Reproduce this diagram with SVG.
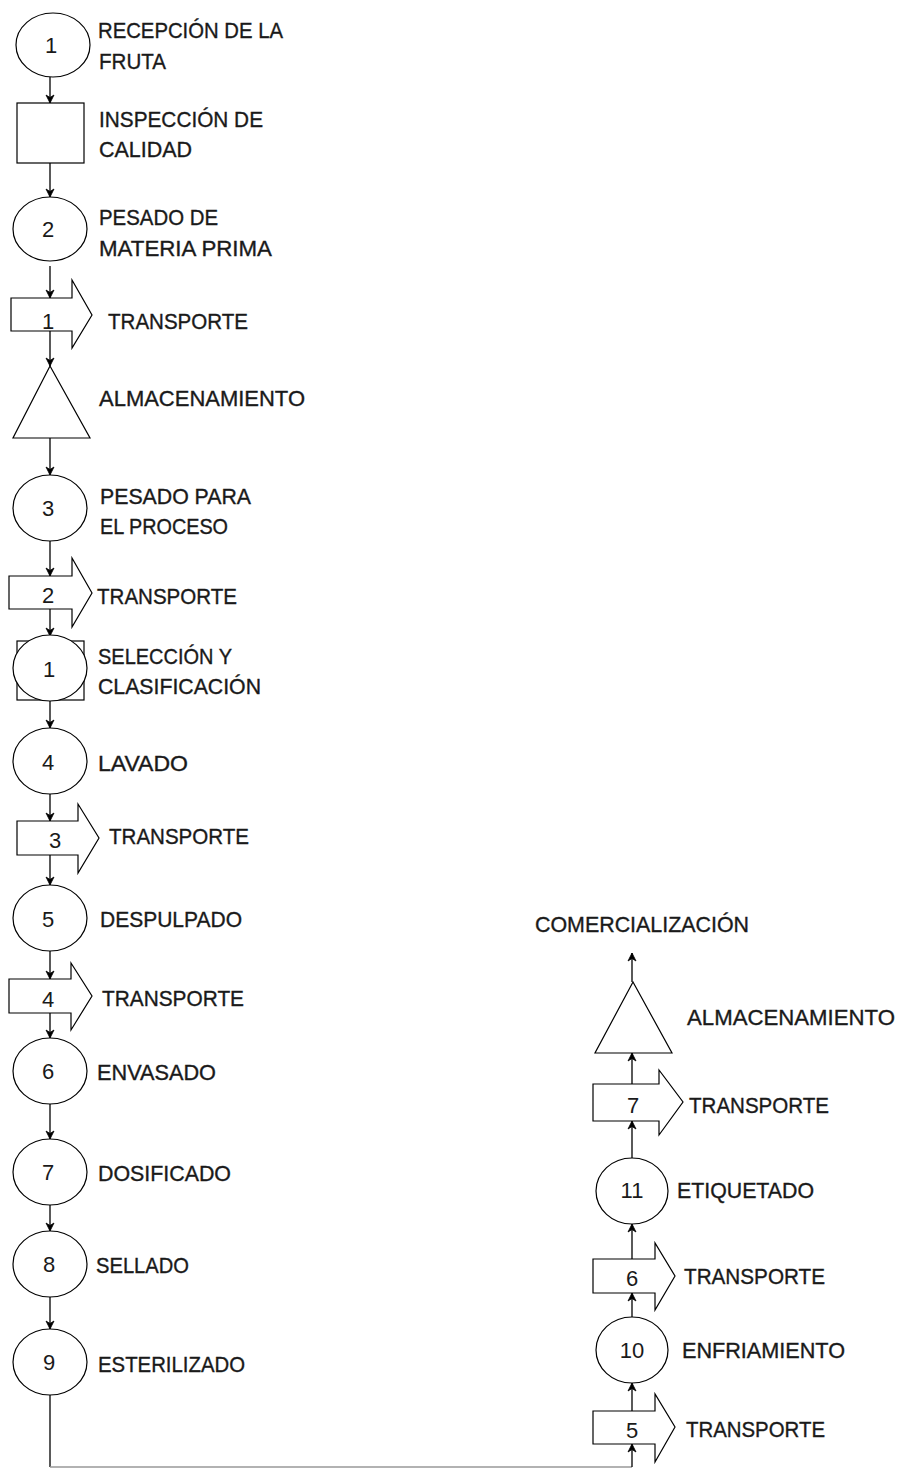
<svg xmlns="http://www.w3.org/2000/svg" width="900" height="1469" viewBox="0 0 900 1469">
<style>
.s{fill:#fff;stroke:#000;stroke-width:1.2}
.t{font-family:"Liberation Sans",Arial,sans-serif;font-size:22px;fill:#1a1a1a;stroke:#1a1a1a;stroke-width:0.35}
.n{font-family:"Liberation Sans",Arial,sans-serif;font-size:22px;fill:#1a1a1a;text-anchor:middle}
.c{stroke:#000;stroke-width:1.3;fill:none}
</style>
<defs>
<marker id="ah" markerUnits="userSpaceOnUse" markerWidth="12" markerHeight="12" viewBox="-10 -6 12 12" refX="0" refY="0" orient="auto">
<path d="M0,0 L-8,-4 L-5.5,0 L-8,4 Z" fill="#000" stroke="#000" stroke-width="0.8"/>
</marker>
</defs>
<rect width="900" height="1469" fill="#fff"/>
<g id="connectors">
<line class="c" x1="50" y1="77" x2="50" y2="103" marker-end="url(#ah)"/>
<line class="c" x1="50" y1="163" x2="50" y2="197" marker-end="url(#ah)"/>
<line class="c" x1="50" y1="266" x2="50" y2="298" marker-end="url(#ah)"/>
<line class="c" x1="50" y1="328" x2="50" y2="366" marker-end="url(#ah)"/>
<line class="c" x1="50" y1="438" x2="50" y2="475" marker-end="url(#ah)"/>
<line class="c" x1="50" y1="541" x2="50" y2="576" marker-end="url(#ah)"/>
<line class="c" x1="50" y1="609" x2="50" y2="636" marker-end="url(#ah)"/>
<line class="c" x1="50" y1="701" x2="50" y2="728" marker-end="url(#ah)"/>
<line class="c" x1="50" y1="794" x2="50" y2="821" marker-end="url(#ah)"/>
<line class="c" x1="50" y1="855" x2="50" y2="885" marker-end="url(#ah)"/>
<line class="c" x1="50" y1="951" x2="50" y2="979" marker-end="url(#ah)"/>
<line class="c" x1="50" y1="1013" x2="50" y2="1038" marker-end="url(#ah)"/>
<line class="c" x1="50" y1="1104" x2="50" y2="1139" marker-end="url(#ah)"/>
<line class="c" x1="50" y1="1205" x2="50" y2="1231" marker-end="url(#ah)"/>
<line class="c" x1="50" y1="1297" x2="50" y2="1329" marker-end="url(#ah)"/>
<line class="c" x1="50" y1="1395" x2="50" y2="1467"/>
<line x1="50" y1="1467" x2="632" y2="1467" stroke="#999" stroke-width="1.3"/>
<line class="c" x1="632" y1="1467" x2="632" y2="1444" marker-end="url(#ah)"/>
<line class="c" x1="632" y1="1411" x2="632" y2="1383" marker-end="url(#ah)"/>
<line class="c" x1="632" y1="1317" x2="632" y2="1293" marker-end="url(#ah)"/>
<line class="c" x1="632" y1="1259" x2="632" y2="1224" marker-end="url(#ah)"/>
<line class="c" x1="632" y1="1158" x2="632" y2="1121" marker-end="url(#ah)"/>
<line class="c" x1="632" y1="1084" x2="632" y2="1053" marker-end="url(#ah)"/>
<line class="c" x1="632" y1="982" x2="632" y2="953" marker-end="url(#ah)"/>
</g>
<g id="n1"><ellipse class="s" cx="53" cy="45" rx="37" ry="32"/><text class="n" x="51" y="53">1</text>
<text class="t" x="98" y="38" textLength="185" lengthAdjust="spacingAndGlyphs">RECEPCIÓN DE LA</text><text class="t" x="99" y="69" textLength="67" lengthAdjust="spacingAndGlyphs">FRUTA</text></g>
<g id="insp"><rect class="s" x="17" y="103" width="67" height="60"/>
<text class="t" x="99" y="127" textLength="164" lengthAdjust="spacingAndGlyphs">INSPECCIÓN DE</text><text class="t" x="99" y="157" textLength="93" lengthAdjust="spacingAndGlyphs">CALIDAD</text></g>
<g id="n2"><ellipse class="s" cx="50" cy="229" rx="37" ry="32"/><text class="n" x="48" y="237">2</text>
<text class="t" x="99" y="225" textLength="119" lengthAdjust="spacingAndGlyphs">PESADO DE</text><text class="t" x="99" y="256" textLength="173" lengthAdjust="spacingAndGlyphs">MATERIA PRIMA</text></g>
<g id="t1"><path class="s" d="M11,298 H72 V280 L92,315 L72,348 V331 H11 Z"/><text class="n" x="48" y="329">1</text>
<text class="t" x="108" y="329" textLength="140" lengthAdjust="spacingAndGlyphs">TRANSPORTE</text></g>
<g id="alm1"><path class="s" d="M50,366 L90,438 L13,438 Z"/>
<text class="t" x="99" y="406" textLength="206" lengthAdjust="spacingAndGlyphs">ALMACENAMIENTO</text></g>
<g id="n3"><ellipse class="s" cx="50" cy="508" rx="37" ry="33"/><text class="n" x="48" y="516">3</text>
<text class="t" x="100" y="504" textLength="151" lengthAdjust="spacingAndGlyphs">PESADO PARA</text><text class="t" x="100" y="534" textLength="128" lengthAdjust="spacingAndGlyphs">EL PROCESO</text></g>
<g id="t2"><path class="s" d="M9,576 H72 V558 L92,593 L72,627 V609 H9 Z"/><text class="n" x="48" y="603">2</text>
<text class="t" x="97" y="604" textLength="140" lengthAdjust="spacingAndGlyphs">TRANSPORTE</text></g>
<g id="sel"><rect class="s" x="17" y="641" width="67" height="59"/><ellipse class="s" cx="50" cy="668" rx="37" ry="33"/><text class="n" x="49" y="677">1</text>
<text class="t" x="98" y="664" textLength="134" lengthAdjust="spacingAndGlyphs">SELECCIÓN Y</text><text class="t" x="98" y="694" textLength="163" lengthAdjust="spacingAndGlyphs">CLASIFICACIÓN</text></g>
<g id="n4"><ellipse class="s" cx="50" cy="761" rx="37" ry="33"/><text class="n" x="48" y="770">4</text>
<text class="t" x="98" y="771" textLength="90" lengthAdjust="spacingAndGlyphs">LAVADO</text></g>
<g id="t3"><path class="s" d="M17,821 H78 V804 L99,838 L78,873 V855 H17 Z"/><text class="n" x="55" y="848">3</text>
<text class="t" x="109" y="844" textLength="140" lengthAdjust="spacingAndGlyphs">TRANSPORTE</text></g>
<g id="n5"><ellipse class="s" cx="50" cy="918" rx="37" ry="33"/><text class="n" x="48" y="927">5</text>
<text class="t" x="100" y="927" textLength="142" lengthAdjust="spacingAndGlyphs">DESPULPADO</text></g>
<g id="t4"><path class="s" d="M9,979 H71 V963 L92,996 L71,1030 V1013 H9 Z"/><text class="n" x="48" y="1007">4</text>
<text class="t" x="102" y="1006" textLength="142" lengthAdjust="spacingAndGlyphs">TRANSPORTE</text></g>
<g id="n6"><ellipse class="s" cx="50" cy="1071" rx="37" ry="33"/><text class="n" x="48" y="1079">6</text>
<text class="t" x="97" y="1080" textLength="119" lengthAdjust="spacingAndGlyphs">ENVASADO</text></g>
<g id="n7"><ellipse class="s" cx="50" cy="1172" rx="37" ry="33"/><text class="n" x="48" y="1180">7</text>
<text class="t" x="98" y="1181" textLength="133" lengthAdjust="spacingAndGlyphs">DOSIFICADO</text></g>
<g id="n8"><ellipse class="s" cx="50" cy="1264" rx="37" ry="33"/><text class="n" x="49" y="1272">8</text>
<text class="t" x="96" y="1273" textLength="93" lengthAdjust="spacingAndGlyphs">SELLADO</text></g>
<g id="n9"><ellipse class="s" cx="50" cy="1362" rx="37" ry="33"/><text class="n" x="49" y="1370">9</text>
<text class="t" x="98" y="1372" textLength="147" lengthAdjust="spacingAndGlyphs">ESTERILIZADO</text></g>
<g id="t5"><path class="s" d="M593,1411 H655 V1394 L675,1427 L655,1462 V1444 H593 Z"/><text class="n" x="632" y="1438">5</text>
<text class="t" x="686" y="1437" textLength="139" lengthAdjust="spacingAndGlyphs">TRANSPORTE</text></g>
<g id="n10"><ellipse class="s" cx="632" cy="1350" rx="36" ry="33"/><text class="n" x="632" y="1358">10</text>
<text class="t" x="682" y="1358" textLength="163" lengthAdjust="spacingAndGlyphs">ENFRIAMIENTO</text></g>
<g id="t6"><path class="s" d="M593,1259 H655 V1243 L675,1276 L655,1310 V1293 H593 Z"/><text class="n" x="632" y="1286">6</text>
<text class="t" x="684" y="1284" textLength="141" lengthAdjust="spacingAndGlyphs">TRANSPORTE</text></g>
<g id="n11"><ellipse class="s" cx="632" cy="1191" rx="36" ry="33"/><text class="n" x="632" y="1198">11</text>
<text class="t" x="677" y="1198" textLength="137" lengthAdjust="spacingAndGlyphs">ETIQUETADO</text></g>
<g id="t7"><path class="s" d="M593,1084 H659 V1070 L683,1102 L659,1135 V1121 H593 Z"/><text class="n" x="633" y="1113">7</text>
<text class="t" x="689" y="1113" textLength="140" lengthAdjust="spacingAndGlyphs">TRANSPORTE</text></g>
<g id="alm2"><path class="s" d="M633,982 L672,1053 L595,1053 Z"/>
<text class="t" x="687" y="1025" textLength="208" lengthAdjust="spacingAndGlyphs">ALMACENAMIENTO</text></g>
<g id="com"><text class="t" x="535" y="932" textLength="214" lengthAdjust="spacingAndGlyphs">COMERCIALIZACIÓN</text></g>
</svg>
